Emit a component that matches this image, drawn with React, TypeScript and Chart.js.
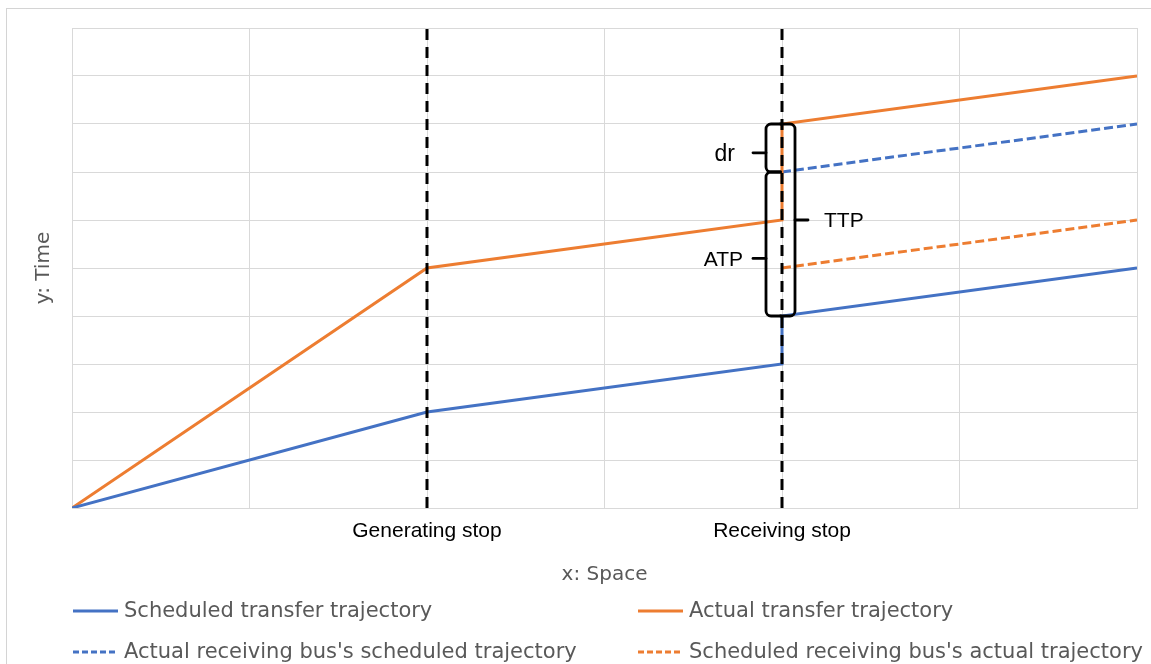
import React, { useEffect, useRef } from 'react';
import { Chart, registerables } from 'chart.js';

Chart.register(...registerables);

// ---------- data ----------
const xTickLabels = ['', '', 'Generating stop', '', 'Receiving stop', '', ''];

const scheduledTransferX = [0, 2, 4, 4, 6];
const scheduledTransferY = [0, 2, 3, 4, 5];

const actualTransferX = [0, 2, 4, 4, 6];
const actualTransferY = [0, 5, 6, 8, 9];

const actualReceivingScheduledX = [4, 6];
const actualReceivingScheduledY = [7, 8];

const scheduledReceivingActualX = [4, 6];
const scheduledReceivingActualY = [5, 6];

const stopPositions = [2, 4];
const timeRange = [0, 10];

const seriesNames = [
  'Scheduled transfer trajectory',
  'Actual transfer trajectory',
  "Actual receiving bus's scheduled trajectory",
  "Scheduled receiving bus's actual trajectory",
];

// brace annotations at the receiving stop (values on the time axis)
const braceLabels = ['dr', 'ATP', 'TTP'];
const braceFrom = [7, 4, 4];
const braceTo = [8, 7, 8];
const braceTick = [7.4, 5.2, 6.0];
const braceSide = ['left', 'left', 'right'];
const braceStop = 4;

const BLUE = '#4472C4';
const ORANGE = '#ED7D31';
const GRID = '#d9d9d9';
const TEXT_GREY = '#595959';

const pts = (xs: number[], ys: number[]) => xs.map((x, i) => ({ x, y: ys[i] }));

const bracePlugin = {
  id: 'braces',
  afterDatasetsDraw(chart: any) {
    const { ctx, scales } = chart;
    const xs = scales.x;
    const ys = scales.y;
    const px = xs.getPixelForValue(braceStop);
    const L = px - 16;
    const R = px + 13;
    const hook = 14.5;
    const r = 5;
    ctx.save();
    ctx.strokeStyle = '#000';
    ctx.lineWidth = 2.8;
    ctx.lineCap = 'round';
    ctx.lineJoin = 'round';
    ctx.fillStyle = '#000';
    ctx.textBaseline = 'middle';
    braceLabels.forEach((label, i) => {
      const yTop = ys.getPixelForValue(braceTo[i]);
      const yBot = ys.getPixelForValue(braceFrom[i]);
      const yTick = ys.getPixelForValue(braceTick[i]);
      const left = braceSide[i] === 'left';
      const X = left ? L : R;
      const dir = left ? 1 : -1;
      ctx.beginPath();
      ctx.moveTo(X + dir * hook, yTop);
      ctx.arcTo(X, yTop, X, yTop + r, r);
      ctx.lineTo(X, yBot - r);
      ctx.arcTo(X, yBot, X + dir * hook, yBot, r);
      ctx.lineTo(X + dir * hook, yBot);
      ctx.stroke();
      ctx.beginPath();
      ctx.moveTo(X, yTick);
      ctx.lineTo(X - dir * 13, yTick);
      ctx.stroke();
      if (left) {
        ctx.textAlign = 'right';
        ctx.font = (label === 'dr' ? '23px' : '21px') + ' "Liberation Sans", Arial, sans-serif';
        ctx.fillText(label, X - 13 - (label === 'dr' ? 18 : 10), yTick + 2);
      } else {
        ctx.textAlign = 'left';
        ctx.font = '21px "Liberation Sans", Arial, sans-serif';
        ctx.fillText(label, X + 13 + 16, yTick + 1);
      }
    });
    ctx.restore();
  },
};

const legendCols = [73, 638];
const legendRows = [611, 652];

const legendPlugin = {
  id: 'customLegend',
  afterDraw(chart: any) {
    const { ctx } = chart;
    ctx.save();
    ctx.font = '21px "DejaVu Sans", sans-serif';
    ctx.textBaseline = 'middle';
    ctx.textAlign = 'left';
    seriesNames.forEach((name, i) => {
      const ds = chart.data.datasets[i];
      const x = legendCols[i % 2];
      const y = legendRows[Math.floor(i / 2)];
      ctx.strokeStyle = ds.borderColor;
      ctx.lineWidth = 3;
      ctx.setLineDash(ds.borderDash && ds.borderDash.length ? [6, 3] : []);
      ctx.beginPath();
      ctx.moveTo(x, y);
      ctx.lineTo(x + 45, y);
      ctx.stroke();
      ctx.setLineDash([]);
      ctx.fillStyle = TEXT_GREY;
      ctx.fillText(name, x + 51, y + 1);
    });
    ctx.restore();
  },
};

export default function App() {
  const canvasRef = useRef<HTMLCanvasElement | null>(null);

  useEffect(() => {
    if (!canvasRef.current) return;
    const series = [
      { label: seriesNames[0], data: pts(scheduledTransferX, scheduledTransferY), borderColor: BLUE, borderDash: [] as number[] },
      { label: seriesNames[1], data: pts(actualTransferX, actualTransferY), borderColor: ORANGE, borderDash: [] as number[] },
      { label: seriesNames[2], data: pts(actualReceivingScheduledX, actualReceivingScheduledY), borderColor: BLUE, borderDash: [9, 4] },
      { label: seriesNames[3], data: pts(scheduledReceivingActualX, scheduledReceivingActualY), borderColor: ORANGE, borderDash: [9, 4] },
    ].map((d) => ({
      ...d,
      borderWidth: 3,
      pointRadius: 0,
      tension: 0,
      fill: false,
      order: 1,
    }));
    const stopLines = stopPositions.map((s) => ({
      label: 'stop',
      data: pts([s, s], timeRange),
      borderColor: '#000',
      borderWidth: 3,
      borderDash: [11, 7],
      pointRadius: 0,
      tension: 0,
      fill: false,
      order: 0,
    }));

    const chart = new Chart(canvasRef.current, {
      type: 'line',
      data: { datasets: [...series, ...stopLines] as any },
      options: {
        animation: false,
        responsive: false,
        devicePixelRatio: 1,
        parsing: true,
        layout: { padding: { left: 8, top: 28, right: 14, bottom: 0 } },
        plugins: {
          legend: { display: false },
          tooltip: { enabled: false },
        },
        scales: {
          x: {
            type: 'linear',
            min: 0,
            max: 6,
            afterFit: (scale: any) => {
              scale.height = 156;
            },
            ticks: {
              stepSize: 1,
              autoSkip: false,
              maxRotation: 0,
              padding: 11,
              color: '#000',
              font: { family: '"Liberation Sans", Arial, sans-serif', size: 21 },
              callback: (v: any) => xTickLabels[Math.round(Number(v))] ?? '',
            },
            grid: { color: GRID, lineWidth: 1, drawTicks: false },
            border: { color: GRID, width: 1 },
            title: {
              display: true,
              text: 'x: Space',
              color: TEXT_GREY,
              font: { family: '"DejaVu Sans", sans-serif', size: 20 },
              padding: { top: 0, bottom: 77 },
            },
          },
          y: {
            type: 'linear',
            min: 0,
            max: 10,
            afterFit: (scale: any) => {
              scale.width = 64;
            },
            ticks: { display: false, stepSize: 1 },
            grid: { color: GRID, lineWidth: 1, drawTicks: false },
            border: { color: GRID, width: 1 },
            title: {
              display: true,
              text: 'y: Time',
              color: TEXT_GREY,
              font: { family: '"DejaVu Sans", sans-serif', size: 20 },
              padding: { top: 24, bottom: 0 },
            },
          },
        },
      },
      plugins: [bracePlugin, legendPlugin],
    } as any);
    return () => chart.destroy();
  }, []);

  return (
    <div
      style={{
        position: 'fixed',
        left: 0,
        top: 0,
        width: 1151,
        height: 664,
        overflow: 'hidden',
        background: '#fff',
      }}
    >
      <div
        style={{
          position: 'absolute',
          left: 6,
          top: 8,
          width: 1200,
          height: 700,
          border: '1px solid #d4d4d4',
          boxSizing: 'border-box',
        }}
      />
      <canvas
        ref={canvasRef}
        width={1151}
        height={664}
        style={{ position: 'absolute', left: 0, top: 0, display: 'block' }}
      />
    </div>
  );
}
